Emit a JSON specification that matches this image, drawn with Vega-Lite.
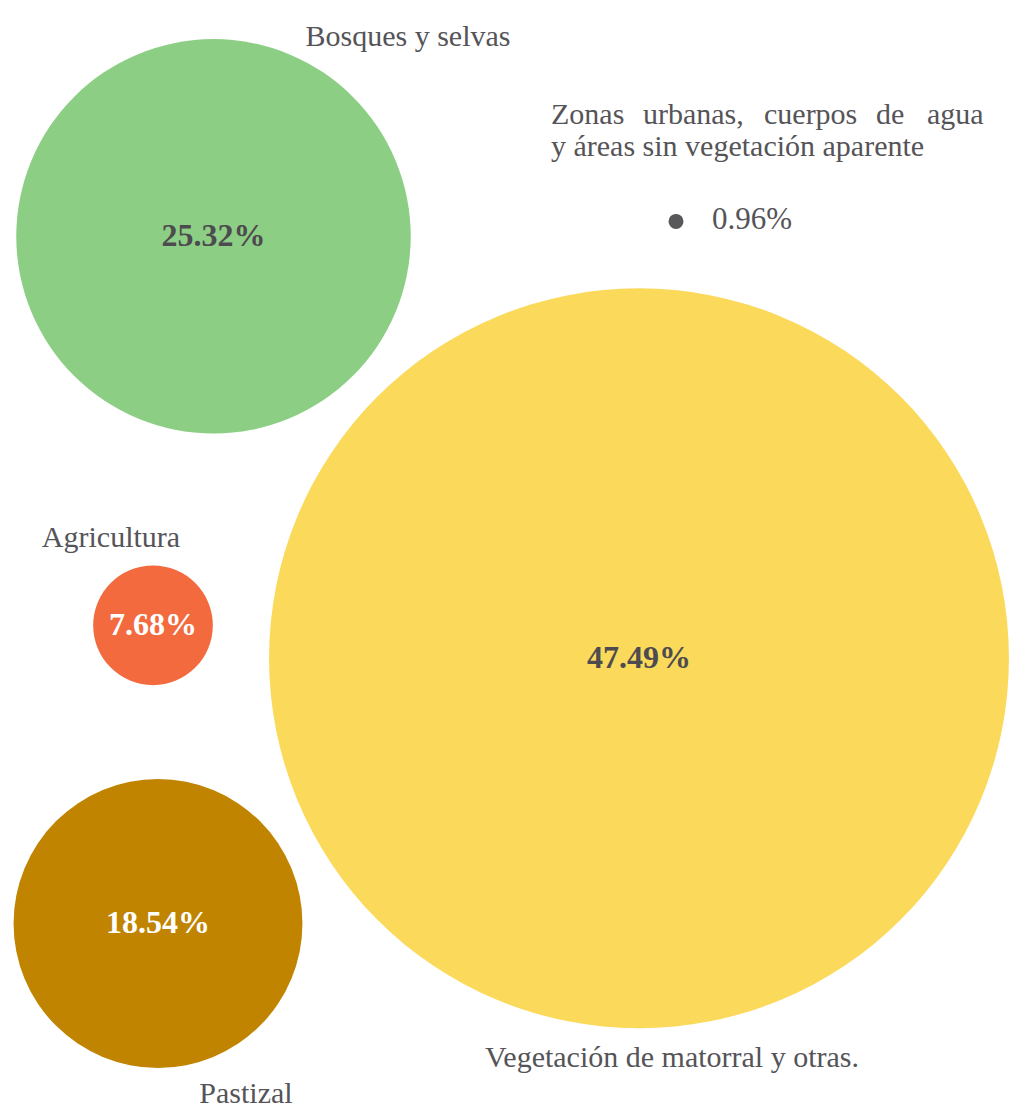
{
  "$schema": "https://vega.github.io/schema/vega-lite/v6.json",
  "width": 1010,
  "height": 1109,
  "autosize": {"type": "fit", "contains": "padding"},
  "padding": 0,
  "background": "white",
  "config": {"view": {"stroke": null}},
  "resolve": {"scale": {"color": "independent"}},
  "datasets": {
    "bubbles": [
      {"name": "Bosques y selvas", "value": 25.32, "cx": 213.5, "cy": 237, "label": "25.32%", "txt": "dark"},
      {"name": "Zonas urbanas", "value": 0.96, "cx": 676, "cy": 222, "label": "", "txt": "dark"},
      {"name": "Vegetación de matorral y otras.", "value": 47.49, "cx": 639, "cy": 660, "label": "47.49%", "txt": "dark"},
      {"name": "Agricultura", "value": 7.68, "cx": 153, "cy": 627, "label": "7.68%", "txt": "light"},
      {"name": "Pastizal", "value": 18.54, "cx": 158, "cy": 926, "label": "18.54%", "txt": "light"}
    ],
    "centerLabels": [
      {"text": "Bosques y selvas", "lx": 408, "ly": 46},
      {"text": "Agricultura", "lx": 111, "ly": 548},
      {"text": "Vegetación de matorral y otras.", "lx": 672, "ly": 1070},
      {"text": "Pastizal", "lx": 246, "ly": 1106}
    ],
    "leftLabels": [
      {"text": "Zonas", "lx": 551, "ly": 124},
      {"text": "urbanas,", "lx": 643, "ly": 124},
      {"text": "cuerpos", "lx": 764, "ly": 124},
      {"text": "de", "lx": 876, "ly": 124},
      {"text": "agua", "lx": 927, "ly": 124},
      {"text": "y áreas sin vegetación aparente", "lx": 551, "ly": 156}
    ]
  },
  "layer": [
    {
      "data": {"name": "bubbles"},
      "mark": {"type": "circle", "opacity": 1},
      "encoding": {
        "x": {"field": "cx", "type": "quantitative", "scale": {"domain": [0, 1010]}, "axis": null},
        "y": {"field": "cy", "type": "quantitative", "scale": {"domain": [0, 1109], "reverse": true}, "axis": null},
        "size": {"field": "value", "type": "quantitative", "scale": {"type": "pow", "exponent": 2, "domain": [0, 50], "range": [0, 606841]}, "legend": null},
        "color": {"field": "name", "type": "nominal", "scale": {"domain": ["Bosques y selvas", "Zonas urbanas", "Vegetación de matorral y otras.", "Agricultura", "Pastizal"], "range": ["#8ccf84", "#58585a", "#fbd95b", "#f26a3e", "#c08400"]}, "legend": null}
      }
    },
    {
      "data": {"name": "bubbles"},
      "mark": {"type": "text", "font": "Liberation Serif", "fontWeight": "bold", "fontSize": 32, "baseline": "middle", "align": "center"},
      "encoding": {
        "x": {"field": "cx", "type": "quantitative", "scale": {"domain": [0, 1010]}, "axis": null},
        "y": {"field": "cy", "type": "quantitative", "scale": {"domain": [0, 1109], "reverse": true}, "axis": null},
        "text": {"field": "label"},
        "color": {"field": "txt", "type": "nominal", "scale": {"domain": ["dark", "light"], "range": ["#4d4b4f", "#ffffff"]}, "legend": null}
      }
    },
    {
      "data": {"values": [{"text": "0.96%", "lx": 712, "ly": 230}]},
      "mark": {"type": "text", "font": "Liberation Serif", "fontSize": 31, "baseline": "alphabetic", "align": "left", "color": "#555458"},
      "encoding": {
        "x": {"field": "lx", "type": "quantitative", "scale": {"domain": [0, 1010]}, "axis": null},
        "y": {"field": "ly", "type": "quantitative", "scale": {"domain": [0, 1109], "reverse": true}, "axis": null},
        "text": {"field": "text"}
      }
    },
    {
      "data": {"name": "centerLabels"},
      "mark": {"type": "text", "font": "Liberation Serif", "fontSize": 30, "baseline": "alphabetic", "align": "center", "color": "#555458"},
      "encoding": {
        "x": {"field": "lx", "type": "quantitative", "scale": {"domain": [0, 1010]}, "axis": null},
        "y": {"field": "ly", "type": "quantitative", "scale": {"domain": [0, 1109], "reverse": true}, "axis": null},
        "text": {"field": "text"}
      }
    },
    {
      "data": {"name": "leftLabels"},
      "mark": {"type": "text", "font": "Liberation Serif", "fontSize": 30, "baseline": "alphabetic", "align": "left", "color": "#555458"},
      "encoding": {
        "x": {"field": "lx", "type": "quantitative", "scale": {"domain": [0, 1010]}, "axis": null},
        "y": {"field": "ly", "type": "quantitative", "scale": {"domain": [0, 1109], "reverse": true}, "axis": null},
        "text": {"field": "text"}
      }
    }
  ]
}
